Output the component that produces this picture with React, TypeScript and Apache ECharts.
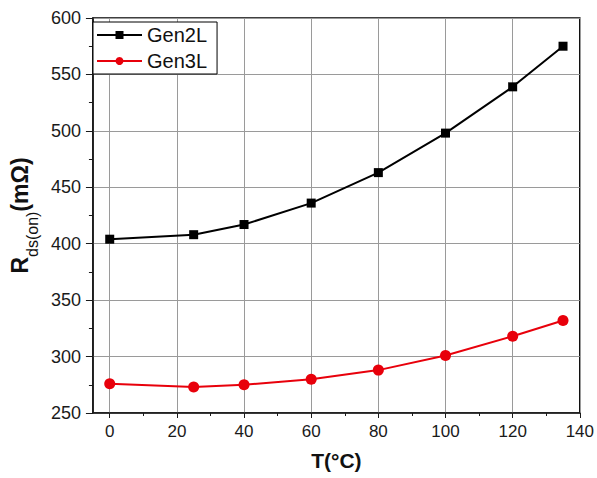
import React, { useEffect, useRef } from 'react';
import * as echarts from 'echarts';

const temps = [0, 25, 40, 60, 80, 100, 120, 135];
const gen2L = [404, 408, 417, 436, 463, 498, 539, 575];
const gen3L = [276, 273, 275, 280, 288, 301, 318, 332];
const xTicks = [0, 20, 40, 60, 80, 100, 120, 140];
const xMinorTicks = [10, 30, 50, 70, 90, 110, 130];
const seriesNames = ['Gen2L', 'Gen3L'];

const FONT = '"Liberation Sans", Arial, sans-serif';

export default function App() {
  const ref = useRef<HTMLDivElement>(null);
  useEffect(() => {
    if (!ref.current) return;
    const chart = echarts.init(ref.current, undefined, { renderer: 'svg' });
    const axisColor = '#1a1a1a';
    chart.setOption({
      animation: false,
      backgroundColor: '#fff',
      textStyle: { fontFamily: FONT },
      grid: {
        left: 89,
        right: 17,
        top: 18,
        bottom: 65,
        show: true,
        borderColor: '#000',
        borderWidth: 1.5,
      },
      legend: {
        orient: 'vertical',
        left: 93,
        top: 22,
        itemWidth: 45,
        itemHeight: 10,
        itemGap: 6,
        padding: [3, 10, 3, 3],
        borderColor: '#000',
        borderWidth: 1,
        backgroundColor: '#fff',
        textStyle: { fontSize: 20, color: '#111', fontFamily: FONT },
        data: seriesNames,
      },
      xAxis: [
        {
          type: 'value',
          min: -5,
          max: 140,
          minInterval: 20,
          maxInterval: 20,
          position: 'bottom',
          axisLine: { show: true, onZero: false, lineStyle: { color: axisColor, width: 1.5 } },
          axisTick: { show: true, length: 5, inside: false, customValues: xTicks, lineStyle: { color: axisColor } },
          axisLabel: {
            customValues: xTicks,
            fontSize: 17,
            margin: 10,
            color: '#1a1a1a',
            formatter: (v: number) => (v < 0 ? '' : String(v)),
          },
          splitLine: { show: true, lineStyle: { color: '#9a9a9a', width: 1 } },
          name: 'T(°C)',
          nameLocation: 'middle',
          nameGap: 37,
          nameTextStyle: { fontSize: 21, fontWeight: 'bold', color: '#111' },
        },
        {
          type: 'value',
          min: -5,
          max: 140,
          position: 'bottom',
          axisLine: { show: false, onZero: false },
          axisTick: { show: true, length: 3, inside: false, customValues: xMinorTicks, lineStyle: { color: axisColor } },
          axisLabel: { show: false },
          splitLine: { show: false },
        },
      ],
      yAxis: {
        type: 'value',
        min: 250,
        max: 600,
        interval: 50,
        axisLine: { show: true, onZero: false, lineStyle: { color: axisColor, width: 1.5 } },
        axisTick: { show: true, length: 7, inside: false, lineStyle: { color: axisColor } },
        minorTick: { show: true, splitNumber: 2, length: 4, lineStyle: { color: axisColor } },
        axisLabel: { fontSize: 18, margin: 12, color: '#1a1a1a' },
        splitLine: { show: true, lineStyle: { color: '#9a9a9a', width: 1 } },
        name: '{b|R}{s|ds(on)}{b|(mΩ)}',
        nameLocation: 'middle',
        nameGap: 50,
        nameTextStyle: {
          color: '#111',
          rich: {
            b: { fontSize: 23, fontWeight: 'bold', color: '#111', fontFamily: FONT, lineHeight: 26, verticalAlign: 'top' },
            s: { fontSize: 16, color: '#111', fontFamily: FONT, verticalAlign: 'bottom', lineHeight: 32 },
          },
        },
      },
      series: [
        {
          name: seriesNames[0],
          type: 'line',
          xAxisIndex: 0,
          data: temps.map((t, i) => [t, gen2L[i]]),
          symbol: 'rect',
          symbolSize: 9,
          color: '#000',
          itemStyle: { color: '#000' },
          lineStyle: { color: '#000', width: 2 },
        },
        {
          name: seriesNames[1],
          type: 'line',
          xAxisIndex: 0,
          data: temps.map((t, i) => [t, gen3L[i]]),
          symbol: 'circle',
          symbolSize: 11,
          color: '#e8000b',
          itemStyle: { color: '#e8000b' },
          lineStyle: { color: '#e8000b', width: 2 },
        },
      ],
    });
    return () => chart.dispose();
  }, []);
  return (
    <div
      ref={ref}
      style={{ position: 'fixed', left: 0, top: 0, width: 597, height: 478, background: '#fff' }}
    />
  );
}
